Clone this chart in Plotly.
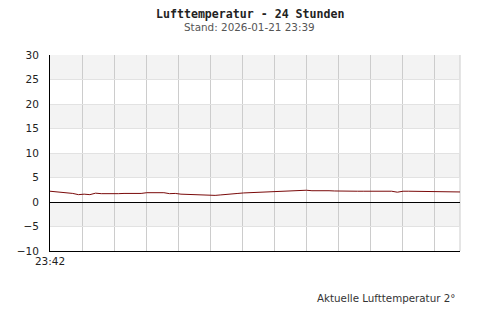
import plotly.graph_objects as go

# Data: air temperature, 20-minute steps over 24 hours (minutes since 23:42)
minutes = [i * 20 for i in range(73)]
temps = [
    2.2, 2.1, 1.9, 1.8, 1.75, 1.5, 1.6, 1.5, 1.8, 1.7,
    1.65, 1.75, 1.7, 1.75, 1.7, 1.8, 1.75, 1.9, 1.95, 1.85,
    1.9, 1.7, 1.75, 1.6, 1.55, 1.6, 1.45, 1.4, 1.3, 1.35,
    1.45, 1.5, 1.65, 1.75, 1.85, 1.9, 2.0, 2.05, 2.1, 2.1,
    2.15, 2.2, 2.2, 2.35, 2.3, 2.4, 2.3, 2.35, 2.4, 2.3,
    2.25, 2.2, 2.2, 2.2, 2.2, 2.2, 2.2, 2.2, 2.2, 2.2,
    2.2, 2.0, 2.2, 2.2, 2.2, 2.2, 2.2, 2.2, 2.2, 2.2,
    2.2, 2.2, 2.05,
]
y_ticks = [-10, -5, 0, 5, 10, 15, 20, 25, 30]
x_start_label = "23:42"
title_text = "Lufttemperatur - 24 Stunden"
subtitle_text = "Stand: 2026-01-21 23:39"
footer_text = "Aktuelle Lufttemperatur 2°"

grid_step = 1440 * 32 / 410
x_grid = [i * grid_step for i in range(13)]
x_text = [x_start_label] + [""] * 12

fig = go.Figure()
fig.add_trace(go.Scatter(
    x=minutes, y=temps, mode="lines",
    line=dict(color="#7a0a0a", width=1), hoverinfo="skip",
))

shapes = []
for lo in [25, 15, 5, -5]:
    shapes.append(dict(type="rect", xref="paper", yref="y", x0=0, x1=1, y0=lo, y1=lo + 5,
                       fillcolor="#f3f3f3", line=dict(width=0), layer="below"))
shapes.append(dict(type="line", xref="paper", yref="paper", x0=1, x1=1, y0=0, y1=1,
                   line=dict(color="#cccccc", width=1), layer="below"))
fig.update_layout(shapes=shapes)

fig.update_xaxes(
    range=[0, 1440], tickvals=x_grid, ticktext=x_text,
    showgrid=True, gridcolor="#cccccc", gridwidth=1,
    showline=True, linecolor="black", linewidth=1,
    ticks="", zeroline=False,
    tickfont=dict(family="DejaVu Sans", size=10.5, color="#222"),
)
fig.update_yaxes(
    range=[-10, 30], tickvals=y_ticks,
    showgrid=True, gridcolor="#e2e2e2", gridwidth=1,
    showline=True, linecolor="black", linewidth=1,
    zeroline=True, zerolinecolor="black", zerolinewidth=1,
    ticks="", ticklabelstandoff=8,
    tickfont=dict(family="DejaVu Sans", size=10.5, color="#222"),
)

def py(p):
    return (251 - p) / 196

fig.update_layout(
    width=500, height=320,
    margin=dict(l=50, r=40, t=55, b=69),
    paper_bgcolor="white", plot_bgcolor="white",
    showlegend=False,
    annotations=[
        dict(text="<b>" + title_text + "</b>", xref="paper", yref="paper",
             x=(249.5 - 50) / 410, y=py(14), xanchor="center", yanchor="middle",
             showarrow=False, font=dict(family="DejaVu Sans Mono", size=11.6, color="#222")),
        dict(text=subtitle_text, xref="paper", yref="paper",
             x=(249 - 50) / 410, y=py(27.5), xanchor="center", yanchor="middle",
             showarrow=False, font=dict(family="DejaVu Sans", size=10.4, color="#555")),
        dict(text=footer_text, xref="paper", yref="paper",
             x=(456.5 - 50) / 410, y=py(298), xanchor="right", yanchor="middle",
             showarrow=False, font=dict(family="DejaVu Sans", size=10.3, color="#333")),
    ],
)

fig.write_html("out.html")
